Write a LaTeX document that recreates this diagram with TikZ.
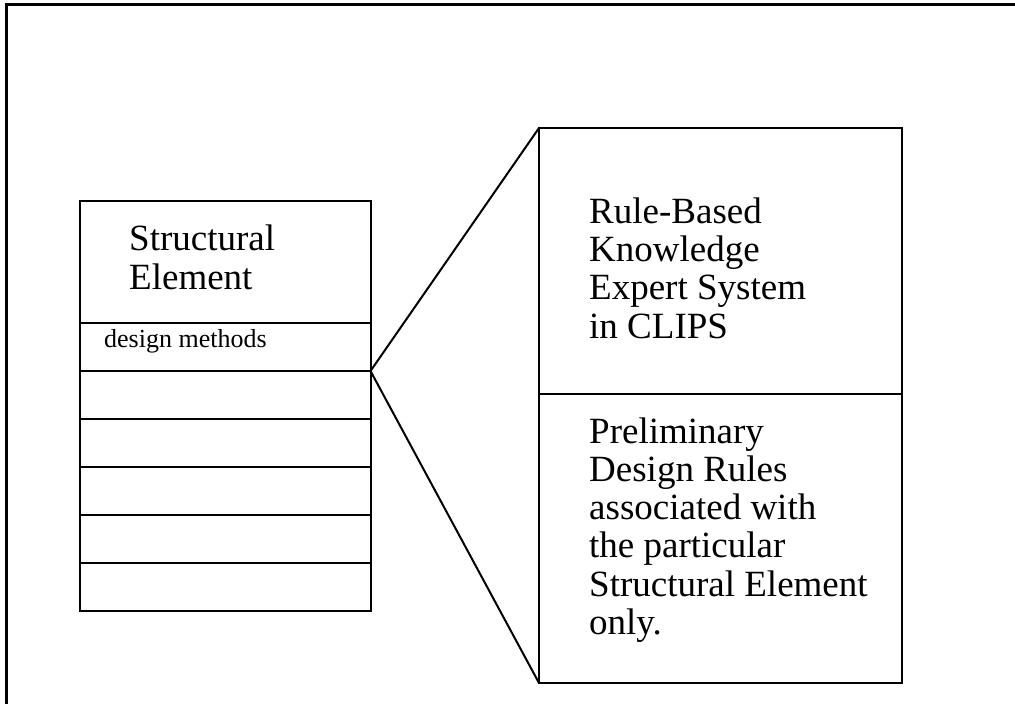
\documentclass[tikz,border=0pt]{standalone}
\usepackage{fontspec}
\setmainfont{Liberation Serif}
\begin{document}
\begin{tikzpicture}[x=1pt,y=-1pt,
  cell/.style={draw,line width=2pt,rectangle,inner sep=0pt,outer sep=0pt,anchor=north west},
  % base anchor of a multi-line node sits on its last line
  bigtext/.style={anchor=base west,inner sep=0pt,align=left,
    font=\fontsize{37}{38.3}\selectfont},
  smalltext/.style={anchor=base west,inner sep=0pt,font=\fontsize{26}{30}\selectfont},
  link/.style={line width=2pt}]
  \useasboundingbox (0,0) rectangle (1015,704);
  \clip (0,0) rectangle (1015,704);
  % outer frame, running off the right and bottom edges
  \draw[line width=3pt] (6,4) rectangle (1040,730);

  % left stack: element class with its method slots
  \node[cell,minimum width=291pt,minimum height=122pt] (head) at (79.5,201) {};
  \node[cell,minimum width=291pt,minimum height=48pt] (m1) at (79.5,323) {};
  \node[cell,minimum width=291pt,minimum height=48pt] (m2) at (79.5,371) {};
  \node[cell,minimum width=291pt,minimum height=48pt] (m3) at (79.5,419) {};
  \node[cell,minimum width=291pt,minimum height=48pt] (m4) at (79.5,467) {};
  \node[cell,minimum width=291pt,minimum height=48pt] (m5) at (79.5,515) {};
  \node[cell,minimum width=291pt,minimum height=48pt] (m6) at (79.5,563) {};
  \node[bigtext] (headtxt) at (129,289) {Structural\\Element};
  \node[smalltext] (m1txt) at (104,347) {design methods};

  % right stack: expert system and its rules
  \node[cell,minimum width=363pt,minimum height=266pt] (es) at (539,128) {};
  \node[cell,minimum width=363pt,minimum height=289pt] (rules) at (539,394) {};
  \node[bigtext] (estxt) at (589,338) {Rule-Based\\Knowledge\\Expert System\\in CLIPS};
  \node[bigtext] (rulestxt) at (589,634.5) {Preliminary\\Design Rules\\associated with\\the particular\\Structural Element\\only.};

  % expansion lines from the method slot to the rule box
  \draw[link] (m1.south east) -- (es.north west);
  \draw[link] (m1.south east) -- (rules.south west);
\end{tikzpicture}
\end{document}
